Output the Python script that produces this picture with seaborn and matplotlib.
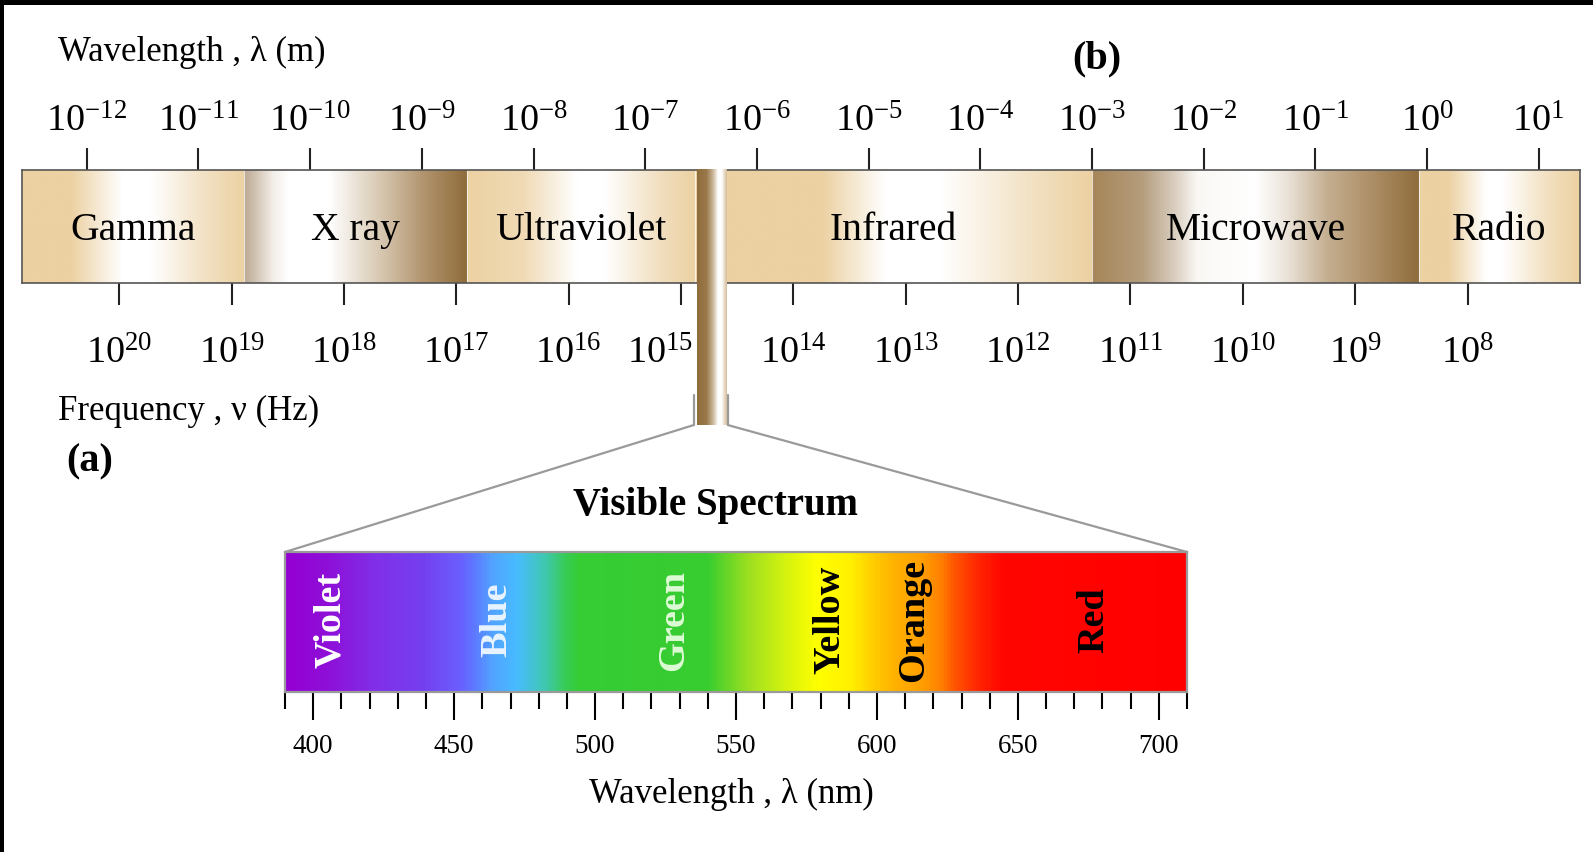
import numpy as np
import matplotlib
matplotlib.use("Agg")
import matplotlib.pyplot as plt
from matplotlib.colors import LinearSegmentedColormap, Normalize
from matplotlib.patches import ConnectionPatch, Rectangle
from matplotlib.transforms import ScaledTranslation
import seaborn as sns

# ---------------- data ----------------
# Electromagnetic bands, edges given as log10(wavelength / m)
band_names = ["Gamma", "X ray", "Ultraviolet", "Infrared", "Microwave", "Radio"]
band_edges = [-12.58, -10.59, -8.60, -6.55, -3.00, -0.07, 1.37]
visible_band = [-6.54, -6.28]

wavelength_exponents = list(range(-12, 2))        # 10^-12 ... 10^1 m
frequency_exponents = list(range(20, 7, -1))      # 10^20 ... 10^8 Hz
freq_anchor = (20, -11.709)    # 10^20 Hz sits at this log10(lambda) on the bar
freq_decade = 1.006            # log10(lambda) units per decade of frequency

# Visible spectrum (nm)
vis_range = [390, 710]
vis_major = [400, 450, 500, 550, 600, 650, 700]
vis_minor = list(range(390, 711, 10))
color_names = ["Violet", "Blue", "Green", "Yellow", "Orange", "Red"]
color_label_nm = [409.5, 468.4, 531.2, 586.5, 616.3, 680.5]

# ---------------- style ----------------
TAN = "#ECD1A2"
BROWN = "#8F6C3B"
WH = "#FFFFFF"
band_gradients = {
    "Gamma": [(0, TAN), (0.22, TAN), (0.45, WH), (0.58, WH), (0.8, "#F3E3C8"), (1, TAN)],
    "X ray": [(0, "#BBA892"), (0.13, "#F3EEE8"), (0.2, WH), (0.38, WH), (0.6, "#DACBB6"),
              (0.8, "#B39670"), (1, BROWN)],
    "Ultraviolet": [(0, TAN), (0.25, "#F0DBB6"), (0.48, WH), (0.6, WH), (0.85, "#F1DEBE"), (1, TAN)],
    "Infrared": [(0, TAN), (0.32, TAN), (0.48, WH), (0.62, WH), (0.85, "#F2E1C3"), (1, TAN)],
    "Microwave": [(0, "#A68659"), (0.15, "#B49C7C"), (0.25, "#D9CDBE"), (0.32, "#FAF8F5"),
                  (0.5, WH), (0.6, "#E9E1D6"), (0.72, "#C4AE90"), (0.85, "#AE9068"), (1, BROWN)],
    "Radio": [(0, TAN), (0.18, TAN), (0.42, WH), (0.52, WH), (0.8, "#F2E0C0"), (1, TAN)],
}
strip_gradient = [(0, BROWN), (0.32, "#9A784A"), (0.55, "#CDBBA0"), (0.7, WH), (0.82, WH),
                  (1, "#D3BD98")]
vis_stops = [(390, "#9400D3"), (405, "#8E10D8"), (422, "#8030E8"), (439, "#7440F0"),
             (452, "#6A60FF"), (457, "#5D7AFF"), (463, "#52A2FF"), (472, "#48BCFF"),
             (482, "#40C8B0"), (489, "#38CC58"), (494, "#35CC35"), (540, "#38CD30"),
             (555, "#A0E020"), (567, "#D2F210"), (579, "#FFFF00"), (591, "#FFF000"),
             (600, "#FFC800"), (607, "#FFB000"), (616, "#FFA000"), (623, "#FF8000"),
             (628, "#FF5400"), (637, "#FF2200"), (645, "#FF0600"), (710, "#FF0000")]
label_colors = ["white", "#E8F4FF", "#DDFBD6", "black", "black", "black"]
GRAY = "#9A9A9A"

sns.set_theme(style="white", rc={"text.color": "black", "axes.labelcolor": "black",
                                 "xtick.color": "black", "ytick.color": "black"})
plt.rcParams["font.family"] = ["Liberation Serif", "DejaVu Serif"]
plt.rcParams["mathtext.fontset"] = "custom"
plt.rcParams["mathtext.rm"] = "Liberation Serif"
plt.rcParams["mathtext.it"] = "Liberation Serif:italic"
plt.rcParams["mathtext.bf"] = "Liberation Serif:bold"

W, H = 1593, 852
fig = plt.figure(figsize=(W / 100, H / 100), dpi=100)
fig.patch.set_facecolor("white")


def fx(px):
    return px / W


def fy(py):
    return 1 - py / H


def lam_to_freq(x):
    return freq_anchor[0] - (np.asarray(x) - freq_anchor[1]) / freq_decade


def freq_to_lam(k):
    return freq_anchor[1] - (np.asarray(k) - freq_anchor[0]) * freq_decade


# ---------------- electromagnetic spectrum bar ----------------
ax = fig.add_axes([fx(22), fy(283), (1580 - 22) / W, (283 - 170) / H])
grad = np.linspace(0, 1, 512)[None, :]
for name, x0, x1 in zip(band_names, band_edges[:-1], band_edges[1:]):
    cmap = LinearSegmentedColormap.from_list(name, band_gradients[name])
    ax.imshow(grad, cmap=cmap, extent=(x0, x1, 0, 1), aspect="auto",
              interpolation="bilinear", zorder=1)
    ax.text((x0 + x1) / 2, 0.381, name, ha="center", va="baseline", fontsize=28.5, zorder=6)
for e in band_edges[1:-1]:
    ax.axvline(e, color="white", lw=0.8, alpha=0.7, zorder=2)

# visible window stretching down from the bar
strip_bottom = -1.257
strip_cmap = LinearSegmentedColormap.from_list("strip", strip_gradient)
ax.imshow(grad, cmap=strip_cmap, extent=(visible_band[0], visible_band[1], strip_bottom, 1),
          aspect="auto", interpolation="bilinear", clip_on=False, zorder=4)

ax.set_xlim(band_edges[0], band_edges[-1])
ax.set_ylim(0, 1)
ax.set_yticks([])
ax.set_xticks(wavelength_exponents)
ax.set_xticklabels([f"$10^{{{e}}}$" for e in wavelength_exponents])
ax.tick_params(axis="x", which="major", bottom=False, labelbottom=False, top=True,
               labeltop=True, direction="out", length=15.8, width=1.5, color="#222222",
               pad=6, labelsize=27.5)
for s in ax.spines.values():
    s.set_color("#555555")
    s.set_linewidth(1.2)

sec = ax.secondary_xaxis("bottom", functions=(lam_to_freq, freq_to_lam))
sec.set_xticks(frequency_exponents)
sec.set_xticklabels([f"$10^{{{k}}}$" for k in frequency_exponents])
sec.tick_params(axis="x", which="major", bottom=True, direction="out", length=15.8,
                width=1.5, color="#222222", pad=23, labelsize=27.5)
sec.tick_params(axis="x", which="minor", bottom=False)
sec.spines["bottom"].set_visible(False)
# nudge the 10^15 label clear of the visible window
for k, lab in zip(frequency_exponents, sec.get_xticklabels()):
    if k == 15:
        lab.set_transform(lab.get_transform() +
                          ScaledTranslation(-0.21, 0, fig.dpi_scale_trans))

# ---------------- visible spectrum ----------------
axv = fig.add_axes([fx(285), fy(692), (1187 - 285) / W, (692 - 552) / H])
nm = np.linspace(vis_range[0], vis_range[1], 1600)
span = vis_range[1] - vis_range[0]
vis_cmap = LinearSegmentedColormap.from_list(
    "visible", [((n - vis_range[0]) / span, c) for n, c in vis_stops])
axv.imshow(nm[None, :], cmap=vis_cmap, norm=Normalize(*vis_range),
           extent=(vis_range[0], vis_range[1], 0, 1), aspect="auto", interpolation="bilinear")
axv.set_xlim(*vis_range)
axv.set_ylim(0, 1)
axv.set_yticks([])
axv.set_xticks(vis_major)
axv.set_xticks([m for m in vis_minor if m not in vis_major], minor=True)
axv.tick_params(axis="x", which="major", bottom=True, direction="out", length=20, width=1.5,
                color="black", pad=10, labelsize=19.5)
axv.tick_params(axis="x", which="minor", bottom=True, direction="out", length=12, width=1.5,
                color="black")
for s in axv.spines.values():
    s.set_color(GRAY)
    s.set_linewidth(1.6)

for name, pos, col in zip(color_names, color_label_nm, label_colors):
    axv.text(pos, 0.514, name, rotation=90, rotation_mode="anchor", ha="center",
             va="baseline", fontsize=27.5, fontweight="bold", color=col)

axv.text((715 - 285) / 902, (692 - 515) / 140, "Visible Spectrum", transform=axv.transAxes,
         ha="center", va="baseline", fontsize=28, fontweight="bold")
axv.text((731.5 - 285) / 902, (692 - 803) / 140, "Wavelength , λ (nm)",
         transform=axv.transAxes, ha="center", va="baseline", fontsize=25)

# bracket joining the visible window to the expanded spectrum
bracket_x = [visible_band[0] - 0.025, visible_band[1] + 0.02]
for xb, xv in zip(bracket_x, vis_range):
    ax.plot([xb, xb], [-0.991, strip_bottom], color=GRAY, lw=1.6, clip_on=False, zorder=3)
    con = ConnectionPatch(xyA=(xb, strip_bottom), coordsA=ax.transData,
                          xyB=(xv, 1), coordsB=axv.get_xaxis_transform(),
                          color=GRAY, lw=1.6)
    fig.add_artist(con)

# ---------------- captions ----------------
fig.text(fx(58), fy(61), "Wavelength , λ (m)", fontsize=25, va="baseline")
fig.text(fx(1072), fy(68), "(b)", fontsize=29, fontweight="bold", va="baseline")
fig.text(fx(58), fy(420), "Frequency , ν (Hz)", fontsize=25, va="baseline")
fig.text(fx(66), fy(471), "(a)", fontsize=29, fontweight="bold", va="baseline")

# frame edges
fig.add_artist(Rectangle((0, fy(5)), 1, 5 / H, transform=fig.transFigure,
                         facecolor="black", edgecolor="none", zorder=10))
fig.add_artist(Rectangle((0, 0), 4 / W, 1, transform=fig.transFigure,
                         facecolor="black", edgecolor="none", zorder=10))

fig.savefig("out.png", dpi=100, facecolor="white")
